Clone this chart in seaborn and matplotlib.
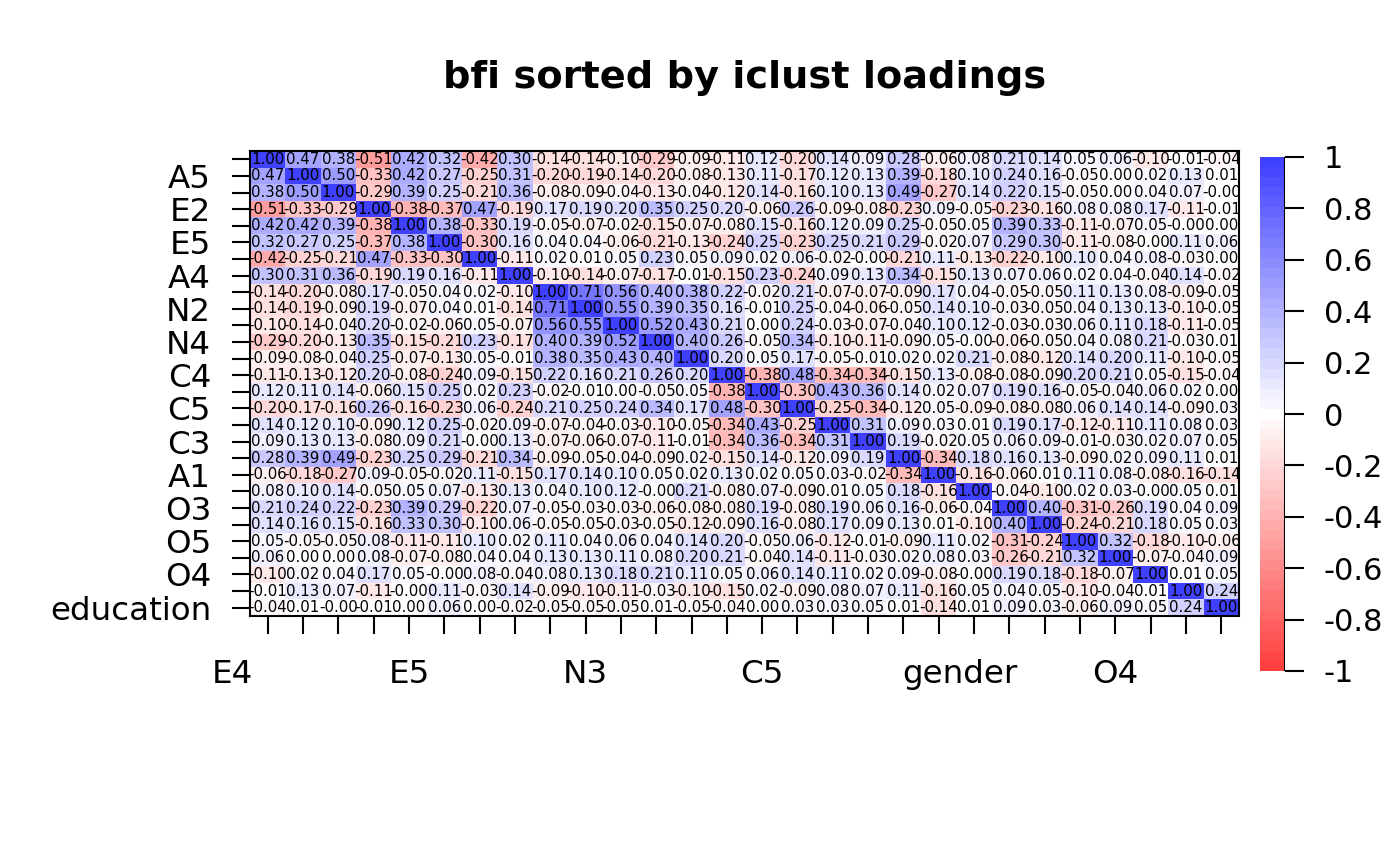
import numpy as np
import pandas as pd
import matplotlib
matplotlib.use("Agg")
import matplotlib.pyplot as plt
from matplotlib.colors import LinearSegmentedColormap
import seaborn as sns

# bfi items in iclust order
items = ["E4", "A5", "A3", "E2", "E3", "E5", "E1", "A4", "N1", "N2", "N3", "N4", "N5",
         "C4", "C2", "C5", "C1", "C3", "A2", "A1", "gender", "O3", "O1", "O5", "O2", "O4",
         "age", "education"]

# lower triangle of the correlation matrix, read row by row
lower = [
    [1.00],
    [0.47, 1.00],
    [0.38, 0.50, 1.00],
    [-0.51, -0.33, -0.29, 1.00],
    [0.42, 0.42, 0.39, -0.38, 1.00],
    [0.32, 0.27, 0.25, -0.37, 0.38, 1.00],
    [-0.42, -0.25, -0.21, 0.47, -0.33, -0.30, 1.00],
    [0.30, 0.31, 0.36, -0.19, 0.19, 0.16, -0.11, 1.00],
    [-0.14, -0.20, -0.08, 0.17, -0.05, 0.04, 0.02, -0.10, 1.00],
    [-0.14, -0.19, -0.09, 0.19, -0.07, 0.04, 0.01, -0.14, 0.71, 1.00],
    [-0.10, -0.14, -0.04, 0.20, -0.02, -0.06, 0.05, -0.07, 0.56, 0.55, 1.00],
    [-0.29, -0.20, -0.13, 0.35, -0.15, -0.21, 0.23, -0.17, 0.40, 0.39, 0.52, 1.00],
    [-0.09, -0.08, -0.04, 0.25, -0.07, -0.13, 0.05, -0.01, 0.38, 0.35, 0.43, 0.40, 1.00],
    [-0.11, -0.13, -0.12, 0.20, -0.08, -0.24, 0.09, -0.15, 0.22, 0.16, 0.21, 0.26, 0.20, 1.00],
    [0.12, 0.11, 0.14, -0.06, 0.15, 0.25, 0.02, 0.23, -0.02, -0.01, 0.00, -0.05, 0.05, -0.38, 1.00],
    [-0.20, -0.17, -0.16, 0.26, -0.16, -0.23, 0.06, -0.24, 0.21, 0.25, 0.24, 0.34, 0.17, 0.48, -0.30, 1.00],
    [0.14, 0.12, 0.10, -0.09, 0.12, 0.25, -0.02, 0.09, -0.07, -0.04, -0.03, -0.10, -0.05, -0.34, 0.43,
     -0.25, 1.00],
    [0.09, 0.13, 0.13, -0.08, 0.09, 0.21, -0.00, 0.13, -0.07, -0.06, -0.07, -0.11, -0.01, -0.34, 0.36,
     -0.34, 0.31, 1.00],
    [0.28, 0.39, 0.49, -0.23, 0.25, 0.29, -0.21, 0.34, -0.09, -0.05, -0.04, -0.09, 0.02, -0.15, 0.14,
     -0.12, 0.09, 0.19, 1.00],
    [-0.06, -0.18, -0.27, 0.09, -0.05, -0.02, 0.11, -0.15, 0.17, 0.14, 0.10, 0.05, 0.02, 0.13, 0.02,
     0.05, 0.03, -0.02, -0.34, 1.00],
    [0.08, 0.10, 0.14, -0.05, 0.05, 0.07, -0.13, 0.13, 0.04, 0.10, 0.12, -0.00, 0.21, -0.08, 0.07,
     -0.09, 0.01, 0.05, 0.18, -0.16, 1.00],
    [0.21, 0.24, 0.22, -0.23, 0.39, 0.29, -0.22, 0.07, -0.05, -0.03, -0.03, -0.06, -0.08, -0.08, 0.19,
     -0.08, 0.19, 0.06, 0.16, -0.06, -0.04, 1.00],
    [0.14, 0.16, 0.15, -0.16, 0.33, 0.30, -0.10, 0.06, -0.05, -0.05, -0.03, -0.05, -0.12, -0.09, 0.16,
     -0.08, 0.17, 0.09, 0.13, 0.01, -0.10, 0.40, 1.00],
    [0.05, -0.05, -0.05, 0.08, -0.11, -0.11, 0.10, 0.02, 0.11, 0.04, 0.06, 0.04, 0.14, 0.20, -0.05,
     0.06, -0.12, -0.01, -0.09, 0.11, 0.02, -0.31, -0.24, 1.00],
    [0.06, 0.00, 0.00, 0.08, -0.07, -0.08, 0.04, 0.04, 0.13, 0.13, 0.11, 0.08, 0.20, 0.21, -0.04,
     0.14, -0.11, -0.03, 0.02, 0.08, 0.03, -0.26, -0.21, 0.32, 1.00],
    [-0.10, 0.02, 0.04, 0.17, 0.05, -0.00, 0.08, -0.04, 0.08, 0.13, 0.18, 0.21, 0.11, 0.05, 0.06,
     0.14, 0.11, 0.02, 0.09, -0.08, -0.00, 0.19, 0.18, -0.18, -0.07, 1.00],
    [-0.01, 0.13, 0.07, -0.11, -0.00, 0.11, -0.03, 0.14, -0.09, -0.10, -0.11, -0.03, -0.10, -0.15, 0.02,
     -0.09, 0.08, 0.07, 0.11, -0.16, 0.05, 0.04, 0.05, -0.10, -0.04, 0.01, 1.00],
    [-0.04, 0.01, -0.00, -0.01, 0.00, 0.06, 0.00, -0.02, -0.05, -0.05, -0.05, 0.01, -0.05, -0.04, 0.00,
     0.03, 0.03, 0.05, 0.01, -0.14, 0.01, 0.09, 0.03, -0.06, 0.09, 0.05, 0.24, 1.00],
]

# bottom labels: every fifth item, at these x positions (in cell units)
col_label_items = ["E4", "E5", "N3", "C5", "gender", "O4"]
col_label_pos = [-0.5, 4.5, 9.5, 14.5, 20.1, 24.5]

cbar_ticks = [1, 0.8, 0.6, 0.4, 0.2, 0, -0.2, -0.4, -0.6, -0.8, -1]

n = len(items)
r = np.zeros((n, n))
for i, row in enumerate(lower):
    for j, v in enumerate(row):
        r[i, j] = v
        r[j, i] = v
df = pd.DataFrame(r, index=items, columns=items)

# red - white - blue at 75% opacity, 51 steps like cor.plot
cmap = LinearSegmentedColormap.from_list("rwb", [(1, .25, .25), (1, 1, 1), (.25, .25, 1)], N=51)

sns.set_style("white")
plt.rcParams["font.family"] = ["DejaVu Sans"]
plt.rcParams["text.color"] = "black"
plt.rcParams["xtick.color"] = "black"
plt.rcParams["ytick.color"] = "black"
plt.rcParams["axes.labelcolor"] = "black"

fig = plt.figure(figsize=(14, 8.66), dpi=100)
ax = fig.add_axes([250/1400, 1-616/866, 989/1400, 465/866])
cax = fig.add_axes([1260/1400, 1-671/866, 25/1400, 514/866])

sns.heatmap(df, ax=ax, cmap=cmap, vmin=-1, vmax=1, annot=True, fmt=".2f",
            annot_kws={"fontsize": 10.8, "color": "black"}, cbar_ax=cax,
            xticklabels=False, yticklabels=False, square=False)

for s in ax.spines.values():
    s.set_visible(True)
    s.set_color("black")
    s.set_linewidth(1.5)

ax.set_yticks(np.arange(n) + 0.5)
ax.set_yticklabels([lab if i % 2 == 1 else "" for i, lab in enumerate(items)],
                   rotation=0, fontsize=23.4, color="black")
ax.set_xticks(np.arange(n) + 0.5)
ax.set_xticklabels([""] * n)
ax.tick_params(axis="both", length=13, width=1.5, color="black", left=True, bottom=True)
ax.tick_params(axis="y", pad=15)
ax.set_xlabel("")
ax.set_ylabel("")

for lab, xpos in zip(col_label_items, col_label_pos):
    ax.text(xpos, -0.125, lab, transform=ax.get_xaxis_transform(),
            ha="center", va="center", fontsize=23.4, color="black")

cb = ax.collections[0].colorbar
cb.outline.set_visible(False)
cb.set_ticks(cbar_ticks)
cb.set_ticklabels([f"{t:g}" for t in cbar_ticks])
cax.tick_params(length=14, width=1.5, pad=14, labelsize=22, color="black", labelcolor="black")
cax.axvline(1, color="black", lw=1.5)

fig.text(745/1400, 1-78/866, "bfi sorted by iclust loadings", ha="center", va="center",
         fontsize=27.5, fontweight="bold", color="black")

fig.savefig("out.png", dpi=100)
